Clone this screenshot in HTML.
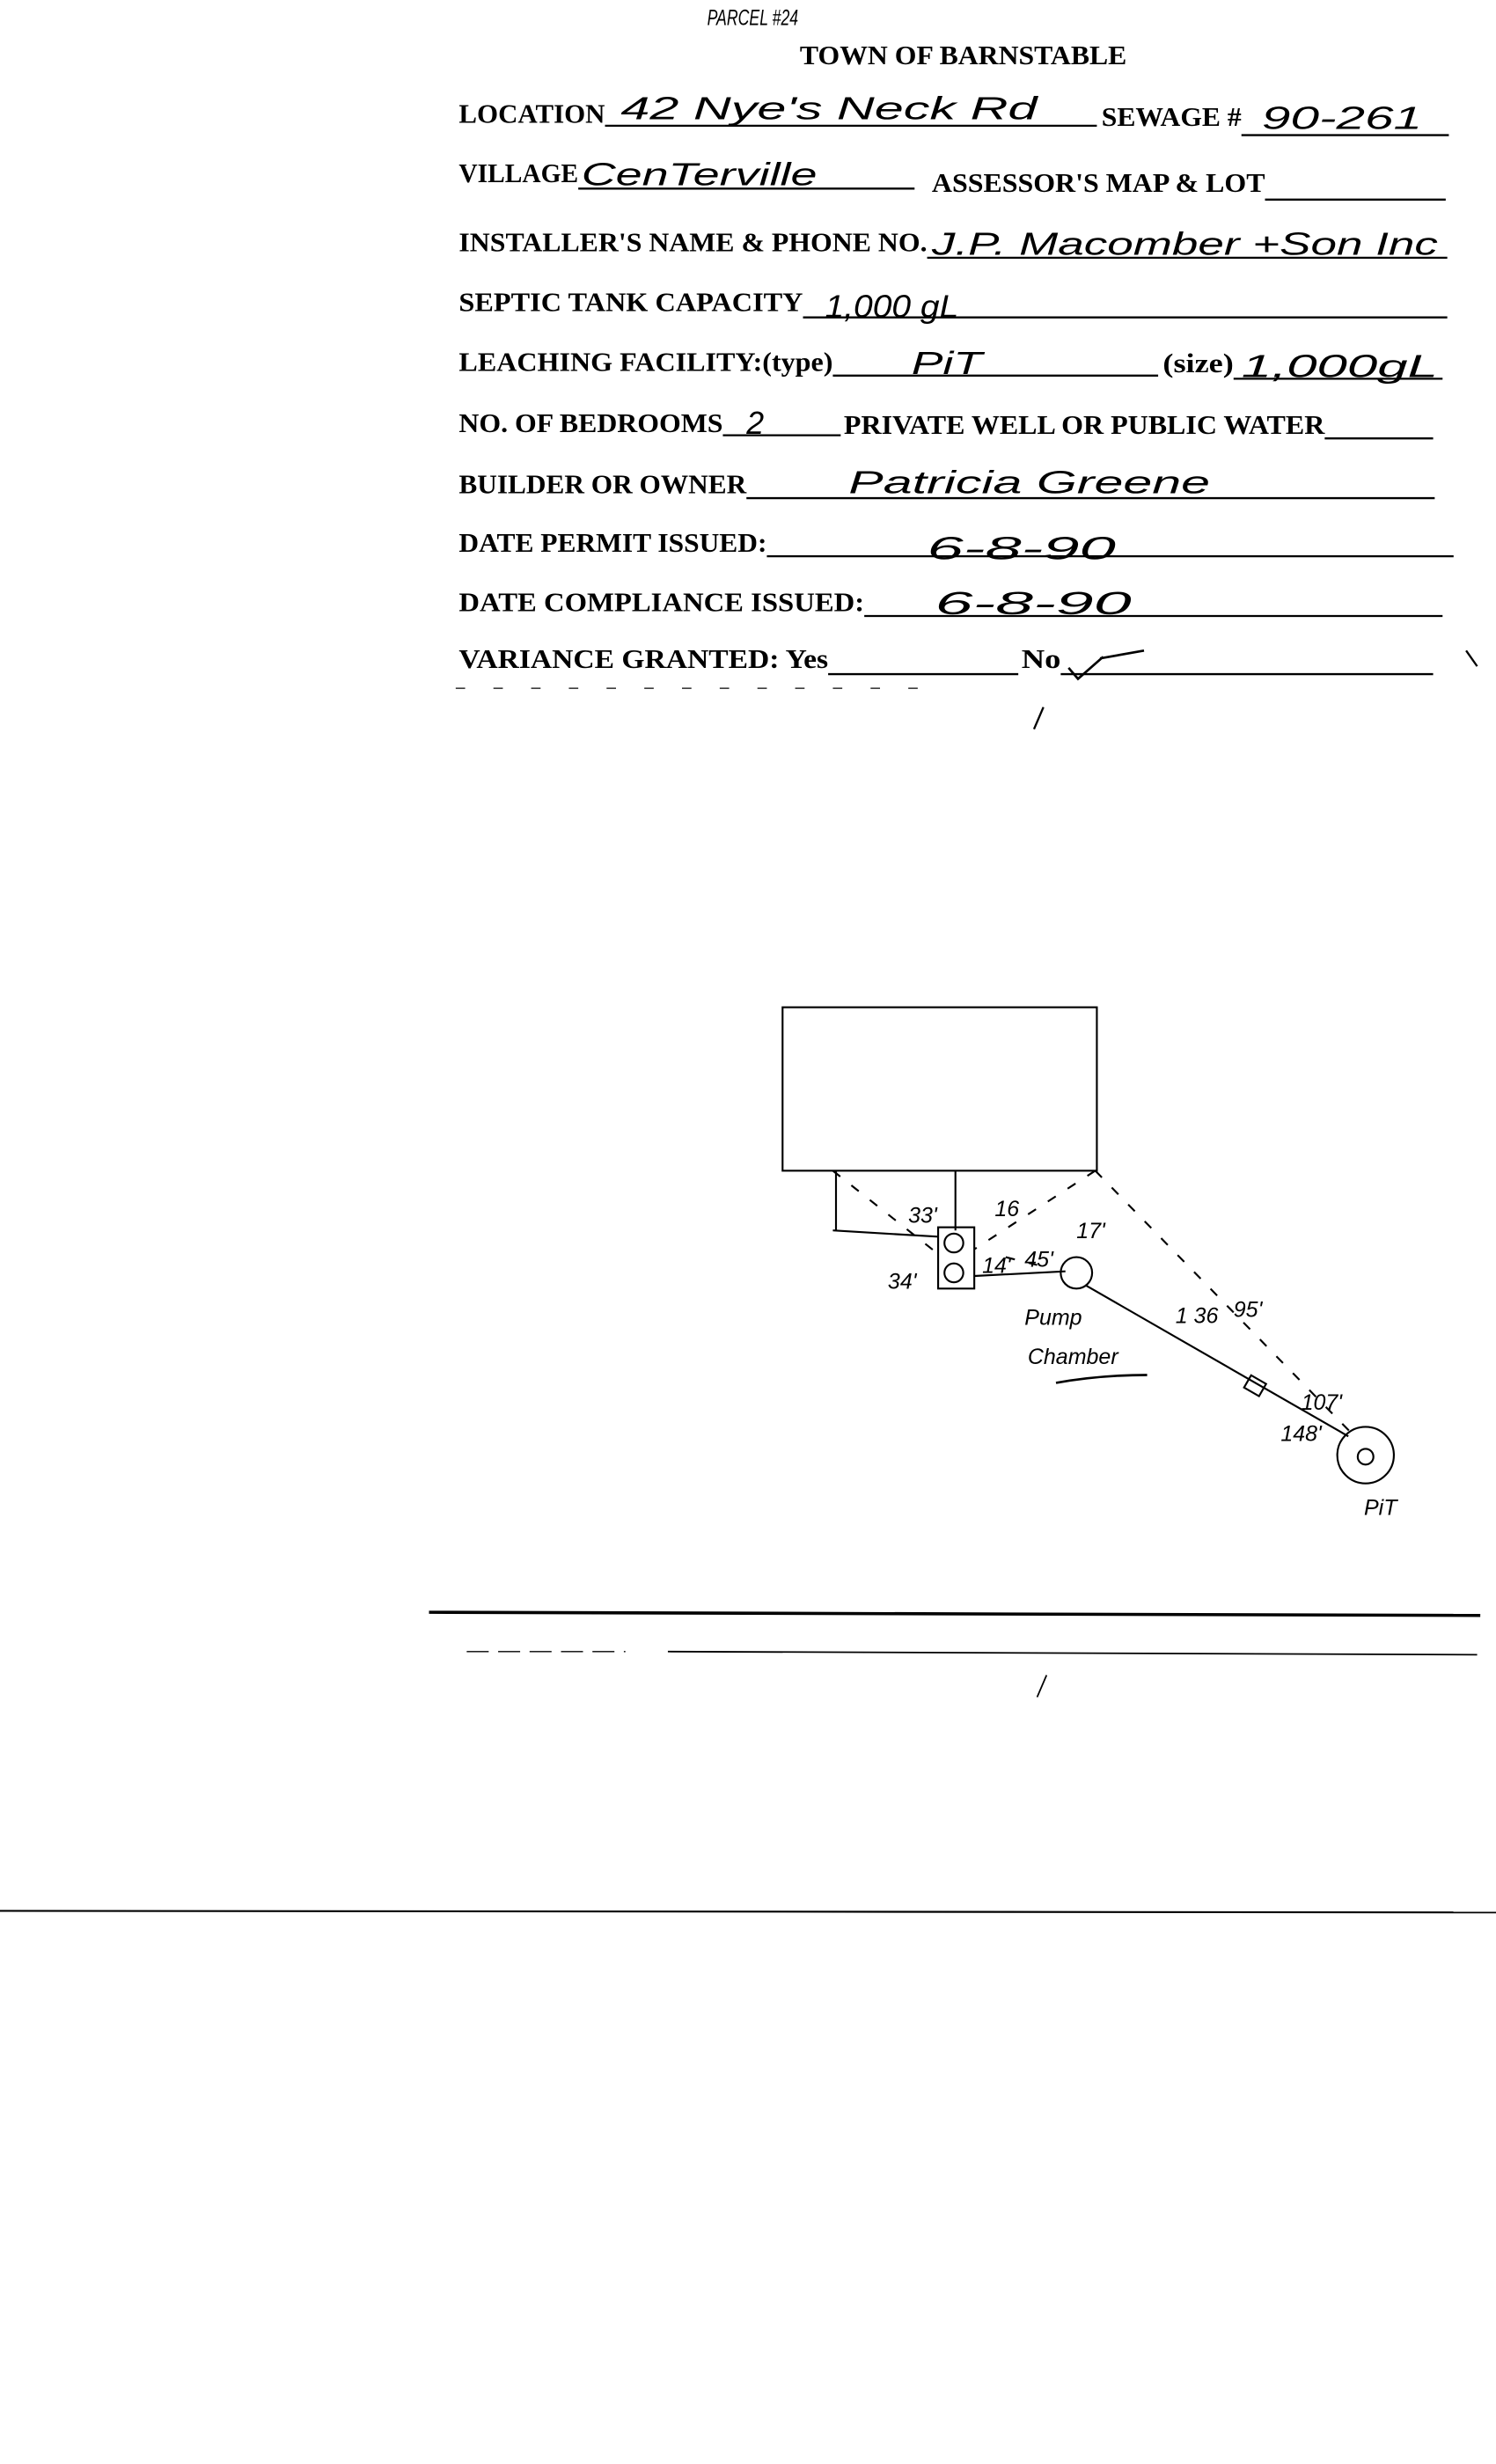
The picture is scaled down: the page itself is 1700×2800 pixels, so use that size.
<!DOCTYPE html>
<html><head><meta charset="utf-8"><style>
html,body{margin:0;padding:0;background:#fff}
svg{display:block}
.l{font-family:"Liberation Serif",serif;font-weight:bold;font-size:17px;fill:#000}
.h{font-family:"Liberation Sans",sans-serif;font-style:italic;font-size:20px;fill:#000}
.hs{font-family:"Liberation Sans",sans-serif;font-style:italic;font-size:14px;fill:#000}
</style></head><body>
<svg width="1700" height="2800" viewBox="0 0 952 1568" preserveAspectRatio="none" xmlns="http://www.w3.org/2000/svg">
<rect width="952" height="1568" fill="#fff"/>
<g stroke="#000" stroke-width="1.3" fill="none">
<line x1="385" y1="80" x2="698" y2="80"/><line x1="790" y1="86" x2="922" y2="86"/>
<line x1="368" y1="120" x2="582" y2="120"/><line x1="805" y1="127" x2="920" y2="127"/>
<line x1="590" y1="164" x2="921" y2="164"/>
<line x1="511" y1="202" x2="921" y2="202"/>
<line x1="530" y1="239" x2="737" y2="239"/><line x1="785" y1="241" x2="918" y2="241"/>
<line x1="460" y1="277" x2="535" y2="277"/><line x1="843" y1="279" x2="912" y2="279"/>
<line x1="475" y1="317" x2="913" y2="317"/>
<line x1="488" y1="354" x2="925" y2="354"/>
<line x1="550" y1="392" x2="918" y2="392"/>
<line x1="527" y1="429" x2="648" y2="429"/><line x1="675" y1="429" x2="912" y2="429"/>
<line x1="290" y1="438" x2="600" y2="438" stroke-dasharray="6,18" stroke-width="0.7"/>
<line x1="664" y1="450" x2="658" y2="464"/>
<line x1="933" y1="414" x2="940" y2="424"/>
</g>
<text x="450" y="16" class="hs" font-size="11" textLength="58" lengthAdjust="spacingAndGlyphs">PARCEL #24</text>
<text x="509" y="41" class="l" textLength="208" lengthAdjust="spacingAndGlyphs">TOWN OF BARNSTABLE</text>
<text x="292" y="78" class="l" textLength="93" lengthAdjust="spacingAndGlyphs">LOCATION</text>
<text x="701" y="80" class="l" textLength="89" lengthAdjust="spacingAndGlyphs">SEWAGE #</text>
<text x="292" y="116" class="l" textLength="76" lengthAdjust="spacingAndGlyphs">VILLAGE</text>
<text x="593" y="122" class="l" textLength="212" lengthAdjust="spacingAndGlyphs">ASSESSOR'S MAP &amp; LOT</text>
<text x="292" y="160" class="l" textLength="298" lengthAdjust="spacingAndGlyphs">INSTALLER'S NAME &amp; PHONE NO.</text>
<text x="292" y="198" class="l" textLength="219" lengthAdjust="spacingAndGlyphs">SEPTIC TANK CAPACITY</text>
<text x="292" y="236" class="l" textLength="238" lengthAdjust="spacingAndGlyphs">LEACHING FACILITY:(type)</text>
<text x="740" y="237" class="l" textLength="45" lengthAdjust="spacingAndGlyphs">(size)</text>
<text x="292" y="275" class="l" textLength="168" lengthAdjust="spacingAndGlyphs">NO. OF BEDROOMS</text>
<text x="537" y="276" class="l" textLength="306" lengthAdjust="spacingAndGlyphs">PRIVATE WELL OR PUBLIC WATER</text>
<text x="292" y="314" class="l" textLength="183" lengthAdjust="spacingAndGlyphs">BUILDER OR OWNER</text>
<text x="292" y="351" class="l" textLength="196" lengthAdjust="spacingAndGlyphs">DATE PERMIT ISSUED:</text>
<text x="292" y="389" class="l" textLength="258" lengthAdjust="spacingAndGlyphs">DATE  COMPLIANCE ISSUED:</text>
<text x="292" y="425" class="l" textLength="235" lengthAdjust="spacingAndGlyphs">VARIANCE GRANTED:  Yes</text>
<text x="650" y="425" class="l" textLength="25" lengthAdjust="spacingAndGlyphs">No</text>
<text x="395" y="76" class="h" textLength="265" lengthAdjust="spacingAndGlyphs">42 Nye's Neck Rd</text>
<text x="803" y="82" class="h" font-size="24" textLength="102" lengthAdjust="spacingAndGlyphs">90-261</text>
<text x="370" y="118" class="h" textLength="150" lengthAdjust="spacingAndGlyphs">CenTerville</text>
<text x="593" y="162" class="h" textLength="322" lengthAdjust="spacingAndGlyphs">J.P. Macomber +Son Inc</text>
<text x="525" y="202" class="h" textLength="85" lengthAdjust="spacingAndGlyphs">1,000 gL</text>
<text x="580" y="238" class="h" font-size="24" textLength="45" lengthAdjust="spacingAndGlyphs">PiT</text>
<text x="790" y="240" class="h" textLength="125" lengthAdjust="spacingAndGlyphs">1,000gL</text>
<text x="475" y="276" class="h" font-size="26">2</text>
<text x="540" y="314" class="h" font-size="24" textLength="230" lengthAdjust="spacingAndGlyphs">Patricia  Greene</text>
<text x="590" y="356" class="h" font-size="24" textLength="120" lengthAdjust="spacingAndGlyphs">6-8-90</text>
<text x="595" y="391" class="h" font-size="24" textLength="125" lengthAdjust="spacingAndGlyphs">6-8-90</text>
<path d="M680 425 L686 432 L702 418 M700 419 L728 414" stroke="#000" stroke-width="1.5" fill="none"/>
<g stroke="#000" stroke-width="1.2" fill="none">
<rect x="498" y="641" width="200" height="104"/>
<line x1="532" y1="745" x2="532" y2="783"/>
<line x1="530" y1="783" x2="597" y2="787"/>
<line x1="608" y1="745" x2="608" y2="783"/>
<rect x="597" y="781" width="23" height="39"/>
<circle cx="607" cy="791" r="6"/><circle cx="607" cy="810" r="6"/>
<line x1="620" y1="812" x2="678" y2="809"/>
<circle cx="685" cy="810" r="10"/>
<line x1="691" y1="818" x2="858" y2="914"/>
<rect x="793" y="877" width="11" height="9" transform="rotate(30 798 882)"/>
<circle cx="869" cy="926" r="18"/><circle cx="869" cy="927" r="5"/>
<g stroke-dasharray="6,9">
<line x1="530" y1="745" x2="597" y2="798"/>
<line x1="697" y1="745" x2="620" y2="795"/>
<line x1="697" y1="745" x2="860" y2="912"/>
<line x1="640" y1="800" x2="660" y2="805"/>
</g>
<path d="M672 880 Q700 875 730 875" stroke-width="1.5"/>
</g>
<text x="578" y="778" class="hs">33'</text>
<text x="633" y="774" class="hs">16</text>
<text x="685" y="788" class="hs">17'</text>
<text x="565" y="820" class="hs">34'</text>
<text x="625" y="810" class="hs" font-size="12">14'</text>
<text x="652" y="806" class="hs">45'</text>
<text x="748" y="842" class="hs">1 36</text>
<text x="785" y="838" class="hs" font-size="17">95'</text>
<text x="828" y="897" class="hs" font-size="17">107'</text>
<text x="815" y="917" class="hs" font-size="12">148'</text>
<text x="652" y="843" class="hs" font-size="17">Pump</text>
<text x="654" y="868" class="hs" font-size="17">Chamber</text>
<text x="868" y="964" class="hs">PiT</text>
<g stroke="#000" fill="none">
<line x1="273" y1="1026" x2="942" y2="1028" stroke-width="2"/>
<line x1="297" y1="1051" x2="398" y2="1051" stroke-width="0.8" stroke-dasharray="14,6"/>
<line x1="425" y1="1051" x2="940" y2="1053" stroke-width="1"/>
<line x1="666" y1="1066" x2="660" y2="1080" stroke-width="1"/>
<line x1="0" y1="1216" x2="952" y2="1217" stroke-width="1.2"/>
</g>
</svg>
</body></html>
